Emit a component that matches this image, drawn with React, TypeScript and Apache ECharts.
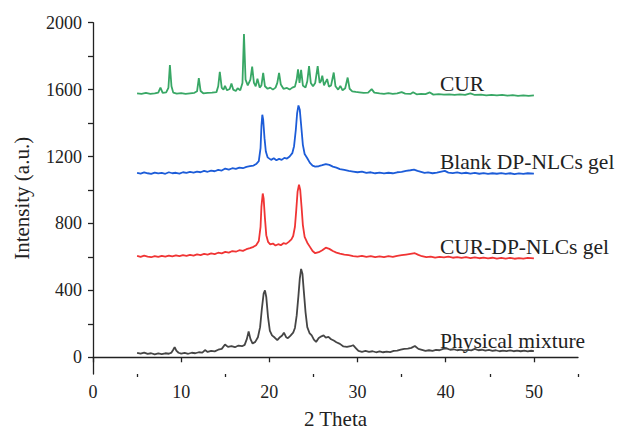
import React, { useEffect, useRef } from "react";
import * as echarts from "echarts";

// X-ray diffraction patterns: [2θ (deg), intensity (a.u.)]
const curData: [number, number][] = [
  [5.0, 1578], [5.5, 1574], [6.0, 1580], [6.5, 1575], [7.0, 1577], [7.4, 1582], [7.65, 1612], [7.9, 1580],
  [8.3, 1583], [8.55, 1610], [8.72, 1747], [8.9, 1620], [9.1, 1582], [9.5, 1576], [10.0, 1579], [10.5, 1575],
  [11.0, 1578], [11.5, 1581], [11.8, 1590], [12.0, 1668], [12.2, 1592], [12.5, 1578], [13.0, 1580], [13.5, 1582],
  [14.0, 1585], [14.2, 1620], [14.38, 1706], [14.6, 1610], [14.8, 1600], [14.97, 1622], [15.2, 1596], [15.5, 1604],
  [15.7, 1637], [15.9, 1600], [16.2, 1592], [16.4, 1608], [16.7, 1596], [16.95, 1640], [17.12, 1933], [17.3, 1660],
  [17.55, 1625], [17.85, 1660], [18.05, 1737], [18.25, 1640], [18.45, 1620], [18.65, 1665], [18.9, 1612], [19.1, 1625],
  [19.3, 1700], [19.5, 1620], [19.8, 1605], [20.1, 1612], [20.4, 1600], [20.7, 1612], [20.9, 1640], [21.1, 1700],
  [21.3, 1630], [21.6, 1605], [22.0, 1610], [22.3, 1600], [22.6, 1612], [22.9, 1618], [23.1, 1660], [23.25, 1721],
  [23.42, 1640], [23.6, 1718], [23.8, 1625], [24.1, 1612], [24.3, 1650], [24.5, 1740], [24.7, 1640], [24.95, 1620],
  [25.2, 1640], [25.48, 1740], [25.7, 1640], [25.85, 1650], [26.0, 1683], [26.2, 1625], [26.55, 1663], [26.75, 1618],
  [27.0, 1625], [27.3, 1702], [27.5, 1620], [27.8, 1600], [28.05, 1622], [28.3, 1596], [28.6, 1608], [28.88, 1672],
  [29.1, 1605], [29.4, 1590], [29.8, 1586], [30.2, 1584], [30.7, 1580], [31.2, 1582], [31.6, 1603], [31.9, 1582],
  [32.5, 1578], [33.0, 1575], [33.5, 1579], [34.0, 1574], [34.5, 1577], [35.0, 1585], [35.4, 1576], [36.0, 1574],
  [36.3, 1584], [36.7, 1572], [37.2, 1575], [37.7, 1573], [38.2, 1583], [38.6, 1570], [39.2, 1573], [39.8, 1570],
  [40.4, 1572], [41.0, 1569], [41.6, 1571], [42.2, 1568], [42.8, 1578], [43.3, 1568], [44.0, 1570], [44.6, 1566],
  [45.2, 1569], [45.8, 1565], [46.4, 1568], [47.0, 1564], [47.6, 1567], [48.2, 1563], [48.8, 1566], [49.4, 1562],
  [50.0, 1565],
];

const blankGelData: [number, number][] = [
  [5.0, 1103], [5.4, 1098], [5.8, 1105], [6.2, 1100], [6.6, 1096], [7.0, 1104], [7.4, 1099], [7.8, 1102],
  [8.2, 1097], [8.6, 1106], [9.0, 1100], [9.4, 1103], [9.8, 1098], [10.2, 1106], [10.6, 1102], [11.0, 1108],
  [11.4, 1104], [11.8, 1110], [12.2, 1106], [12.6, 1114], [13.0, 1109], [13.4, 1116], [13.8, 1112], [14.2, 1120],
  [14.6, 1116], [15.0, 1128], [15.4, 1122], [15.8, 1130], [16.2, 1126], [16.6, 1134], [17.0, 1130], [17.4, 1138],
  [17.8, 1142], [18.2, 1146], [18.5, 1155], [18.8, 1172], [19.0, 1250], [19.1, 1380], [19.2, 1450], [19.3, 1420],
  [19.45, 1310], [19.6, 1230], [19.8, 1195], [20.2, 1180], [20.5, 1190], [20.8, 1178], [21.1, 1186], [21.4, 1180],
  [21.7, 1192], [22.0, 1188], [22.3, 1200], [22.6, 1220], [22.8, 1262], [23.0, 1360], [23.15, 1460], [23.3, 1505],
  [23.45, 1480], [23.6, 1390], [23.8, 1270], [24.0, 1215], [24.3, 1190], [24.6, 1162], [24.9, 1146], [25.2, 1140],
  [25.6, 1142], [26.0, 1148], [26.4, 1155], [26.8, 1150], [27.2, 1140], [27.6, 1134], [28.0, 1125], [28.5, 1120],
  [29.0, 1114], [29.5, 1110], [30.0, 1106], [30.5, 1110], [31.0, 1102], [31.5, 1106], [32.0, 1100], [32.5, 1104],
  [33.0, 1099], [33.5, 1103], [34.0, 1100], [34.5, 1106], [35.0, 1108], [35.5, 1114], [36.0, 1118], [36.4, 1122],
  [36.8, 1114], [37.2, 1108], [37.6, 1102], [38.0, 1105], [38.5, 1100], [39.0, 1104], [39.5, 1110], [39.9, 1114],
  [40.3, 1104], [40.8, 1101], [41.3, 1105], [41.8, 1099], [42.3, 1103], [42.8, 1098], [43.3, 1102], [43.8, 1097],
  [44.3, 1101], [44.8, 1096], [45.3, 1100], [45.8, 1097], [46.3, 1101], [46.8, 1096], [47.3, 1100], [47.8, 1095],
  [48.3, 1099], [48.8, 1096], [49.3, 1100], [50.0, 1098],
];

const curGelData: [number, number][] = [
  [5.0, 606], [5.4, 600], [5.8, 607], [6.2, 602], [6.6, 598], [7.0, 605], [7.4, 600], [7.8, 606],
  [8.2, 602], [8.6, 608], [9.0, 603], [9.4, 609], [9.8, 604], [10.2, 610], [10.6, 606], [11.0, 612],
  [11.4, 608], [11.8, 615], [12.2, 611], [12.6, 618], [13.0, 614], [13.4, 621], [13.8, 617], [14.2, 625],
  [14.6, 621], [15.0, 630], [15.4, 626], [15.8, 635], [16.2, 631], [16.6, 640], [17.0, 636], [17.4, 646],
  [17.8, 652], [18.2, 660], [18.5, 670], [18.8, 695], [19.0, 780], [19.1, 900], [19.25, 979], [19.35, 950],
  [19.5, 830], [19.65, 730], [19.85, 690], [20.1, 675], [20.4, 680], [20.7, 668], [21.0, 676], [21.3, 670],
  [21.6, 682], [21.9, 678], [22.2, 690], [22.5, 705], [22.7, 725], [22.9, 780], [23.05, 880], [23.2, 990],
  [23.36, 1031], [23.5, 1000], [23.65, 900], [23.8, 790], [24.0, 720], [24.3, 685], [24.6, 660], [24.9, 635],
  [25.2, 622], [25.6, 628], [26.0, 640], [26.4, 655], [26.8, 648], [27.2, 635], [27.6, 626], [28.0, 620],
  [28.5, 614], [29.0, 610], [29.5, 605], [30.0, 602], [30.5, 606], [31.0, 600], [31.5, 604], [32.0, 598],
  [32.5, 603], [33.0, 599], [33.5, 604], [34.0, 600], [34.5, 606], [35.0, 610], [35.5, 614], [36.0, 618],
  [36.5, 622], [36.9, 612], [37.3, 604], [37.8, 598], [38.3, 602], [38.8, 596], [39.3, 600], [39.8, 597],
  [40.3, 601], [40.8, 595], [41.3, 599], [41.8, 594], [42.3, 598], [42.8, 593], [43.3, 597], [43.8, 592],
  [44.3, 596], [44.8, 591], [45.3, 595], [45.8, 590], [46.3, 594], [46.8, 590], [47.3, 594], [47.8, 589],
  [48.3, 593], [48.8, 590], [49.3, 594], [50.0, 591],
];

const mixtureData: [number, number][] = [
  [5.0, 27], [5.4, 22], [5.8, 28], [6.2, 20], [6.6, 24], [7.0, 18], [7.4, 23], [7.8, 19],
  [8.2, 24], [8.6, 21], [8.9, 28], [9.1, 45], [9.26, 61], [9.45, 40], [9.7, 27], [10.0, 22],
  [10.4, 26], [10.8, 21], [11.2, 27], [11.6, 24], [12.0, 30], [12.4, 28], [12.7, 43], [13.0, 32],
  [13.4, 38], [13.8, 35], [14.2, 45], [14.6, 50], [14.97, 76], [15.3, 62], [15.7, 66], [16.1, 60],
  [16.5, 70], [16.9, 66], [17.2, 74], [17.45, 110], [17.65, 155], [17.85, 110], [18.1, 82], [18.4, 92],
  [18.7, 120], [18.95, 180], [19.15, 290], [19.35, 380], [19.5, 400], [19.65, 360], [19.85, 240], [20.05, 160],
  [20.3, 131], [20.6, 118], [20.9, 102], [21.2, 120], [21.45, 130], [21.65, 147], [21.9, 120], [22.1, 114],
  [22.4, 130], [22.7, 147], [22.9, 175], [23.1, 250], [23.3, 370], [23.45, 470], [23.6, 528], [23.75, 500],
  [23.9, 400], [24.1, 270], [24.3, 180], [24.55, 145], [24.8, 131], [25.05, 105], [25.3, 92], [25.6, 115],
  [25.9, 125], [26.15, 131], [26.4, 118], [26.7, 122], [27.0, 108], [27.3, 100], [27.6, 90], [28.0, 80],
  [28.4, 65], [28.8, 62], [29.2, 66], [29.5, 72], [29.8, 55], [30.1, 38], [30.5, 33], [30.9, 38],
  [31.3, 32], [31.7, 36], [32.1, 30], [32.5, 35], [32.9, 30], [33.3, 34], [33.7, 31], [34.1, 38],
  [34.5, 40], [34.9, 46], [35.3, 50], [35.7, 52], [36.1, 56], [36.5, 67], [36.9, 50], [37.3, 44],
  [37.7, 38], [38.1, 42], [38.5, 38], [38.9, 44], [39.3, 42], [39.7, 50], [40.1, 53], [40.5, 45],
  [40.9, 48], [41.3, 42], [41.7, 46], [42.1, 40], [42.5, 44], [42.9, 41], [43.3, 50], [43.7, 42],
  [44.1, 45], [44.5, 40], [44.9, 44], [45.3, 38], [45.7, 42], [46.1, 36], [46.5, 40], [46.9, 37],
  [47.3, 41], [47.7, 36], [48.1, 40], [48.5, 36], [48.9, 40], [49.3, 35], [49.7, 39], [50.0, 37],
];

const seriesNames = ["CUR", "Blank DP-NLCs gel", "CUR-DP-NLCs gel", "Physical mixture"];
const xTickLabels = [0, 10, 20, 30, 40, 50];
const xMinorTicks = [5, 15, 25, 35, 45, 55];
const yTickLabels = [0, 400, 800, 1200, 1600, 2000];
const yAllTicks = [0, 200, 400, 600, 800, 1000, 1200, 1400, 1600, 1800, 2000];

const FONT = "Liberation Serif";
const INK = "#222";

export default function App() {
  const ref = useRef<HTMLDivElement>(null);
  useEffect(() => {
    if (!ref.current) return;
    const chart = echarts.init(ref.current, undefined, { renderer: "svg" });
    const colors = ["#38a765", "#1c5cd8", "#f03434", "#454545"];
    const datasets = [curData, blankGelData, curGelData, mixtureData];
    const labelPos = [
      { x: 440, y: 84 },
      { x: 440, y: 161.5 },
      { x: 440, y: 246.5 },
      { x: 440, y: 341 },
    ];
    const axisLine = { show: true, lineStyle: { color: INK, width: 1.3 } };
    const plain = (v: number) => String(v);
    const tickFont = { fontFamily: FONT, fontSize: 18, color: INK, fontWeight: "normal" as const };
    const nameFont = { fontFamily: FONT, fontSize: 21, color: INK, fontWeight: "normal" as const };
    chart.setOption({
      animation: false,
      backgroundColor: "#fff",
      grid: { left: 93, right: 40, top: 22.7, bottom: 54 },
      xAxis: [
        {
          type: "value",
          min: 0,
          max: 55,
          name: "2 Theta",
          nameLocation: "middle",
          nameGap: 34,
          nameTextStyle: nameFont,
          axisLine,
          splitLine: { show: false },
          axisTick: { show: true, inside: false, length: 5, customValues: xTickLabels, lineStyle: { color: INK, width: 1.3 } },
          axisLabel: { show: true, customValues: xTickLabels, formatter: plain, margin: 9, ...tickFont },
        },
        {
          type: "value",
          min: 0,
          max: 55,
          position: "bottom",
          axisLine: { show: false },
          splitLine: { show: false },
          axisTick: { show: true, inside: false, length: 3, customValues: xMinorTicks, lineStyle: { color: INK, width: 1.3 } },
          axisLabel: { show: false },
        },
      ],
      yAxis: {
        type: "value",
        min: -100,
        max: 2000,
        name: "Intensity (a.u.)",
        nameLocation: "middle",
        nameGap: 61,
        nameTextStyle: nameFont,
        axisLine,
        splitLine: { show: false },
        axisTick: { show: true, inside: false, length: 5, customValues: yAllTicks, lineStyle: { color: INK, width: 1.3 } },
        axisLabel: { show: true, customValues: yTickLabels, formatter: plain, margin: 11, ...tickFont },
      },
      series: datasets.map((d, i) => ({
        name: seriesNames[i],
        type: "line",
        data: d,
        showSymbol: false,
        symbol: "none",
        smooth: false,
        lineStyle: { color: colors[i], width: 1.8 },
        z: 2,
      })),
      graphic: seriesNames.map((n, i) => ({
        type: "text",
        x: labelPos[i].x,
        y: labelPos[i].y,
        style: {
          text: n,
          fontFamily: FONT,
          fontSize: 21.5,
          fill: INK,
          textAlign: "left",
          textVerticalAlign: "middle",
        },
      })),
    });
    return () => chart.dispose();
  }, []);
  return (
    <div
      ref={ref}
      style={{ position: "absolute", left: 0, top: 0, width: 618, height: 434, background: "#fff" }}
    />
  );
}
